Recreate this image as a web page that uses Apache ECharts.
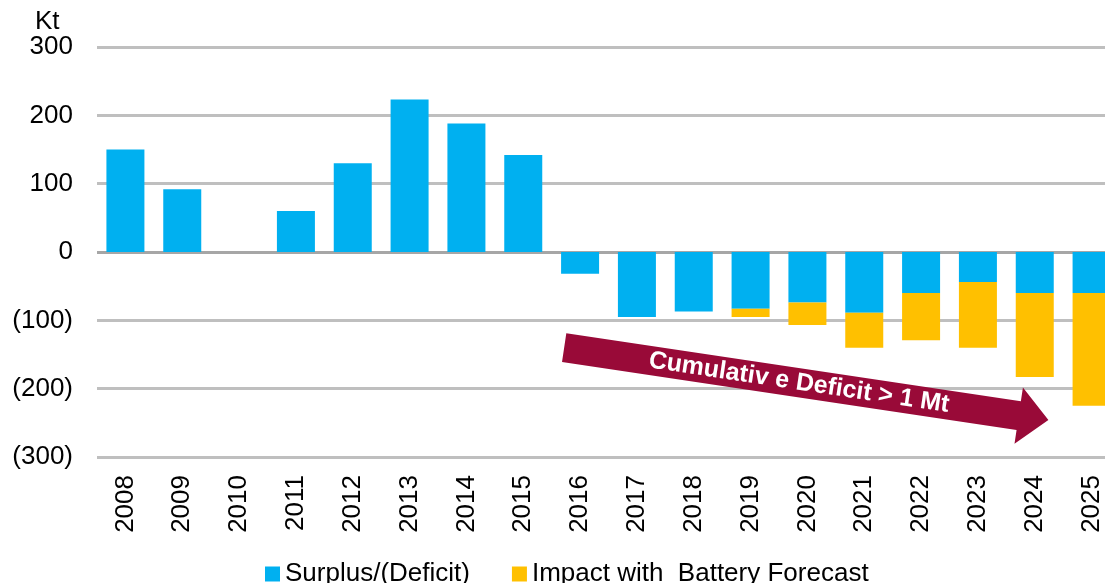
<!DOCTYPE html>
<html>
<head>
<meta charset="utf-8">
<script src="https://cdn.jsdelivr.net/npm/echarts@6/dist/echarts.min.js"></script>
<style>
  html, body { margin: 0; padding: 0; background: #fff; }
  #main { width: 1105px; height: 583px; }
</style>
</head>
<body>
<div id="main"></div>
<script>
// data (Kt)
var years = ['2008', '2009', '2010', '2011', '2012', '2013', '2014', '2015', '2016',
             '2017', '2018', '2019', '2020', '2021', '2022', '2023', '2024', '2025'];
var surplus = [150, 92, 0, 60, 130, 223, 188, 142, -32, -95, -87, -83, -74, -89, -60, -44, -60, -60];
var batteryImpact = [0, 0, 0, 0, 0, 0, 0, 0, 0, 0, 0, -12, -33, -51, -69, -96, -123, -165];
var seriesNames = ['Surplus/(Deficit)', 'Impact with  Battery Forecast'];

// arrow annotation, in [category index, value]
var arrowFrom = [7.72, -140];
var arrowTo = [16.24, -246];
var arrowText = 'Cumulativ e Deficit > 1 Mt';

var font = '"Liberation Sans", Arial, sans-serif';
var chart = echarts.init(document.getElementById('main'));

function fmt(v) {
  return v < 0 ? '(' + (-v) + ')' : String(v);
}

chart.setOption({
  animation: false,
  title: {
    text: 'Kt', left: 30, top: 4,
    textStyle: { fontSize: 26, fontWeight: 'normal', color: '#000', fontFamily: font }
  },
  legend: {
    left: 260, top: 556,
    icon: 'rect', itemWidth: 15, itemHeight: 15, itemGap: 42,
    textStyle: { fontSize: 26, color: '#000', fontFamily: font },
    data: seriesNames
  },
  // the plot runs past the right edge of the picture
  grid: { left: 97, width: 1023, top: 47, bottom: 126, outerBoundsMode: 'none' },
  xAxis: {
    type: 'category',
    data: years,
    axisLine: { show: false },
    axisTick: { show: false },
    axisLabel: { rotate: 90, fontSize: 26, color: '#000', fontFamily: font, margin: 18 }
  },
  yAxis: {
    type: 'value',
    min: -300, max: 300, interval: 100,
    axisLine: { show: false },
    axisTick: { show: false },
    axisLabel: { fontSize: 26, color: '#000', fontFamily: font, margin: 24, formatter: fmt },
    splitLine: {
      lineStyle: {
        width: 3,
        color: ['#BFBFBF', '#BFBFBF', '#BFBFBF', '#A6A6A6', '#BFBFBF', '#BFBFBF', '#BFBFBF']
      }
    }
  },
  series: [
    {
      name: seriesNames[0], type: 'bar', stack: 'total', barWidth: 38,
      itemStyle: { color: '#00B0F0' },
      data: surplus
    },
    {
      name: seriesNames[1], type: 'bar', stack: 'total', barWidth: 38,
      itemStyle: { color: '#FFC000' },
      data: batteryImpact
    }
  ]
});

// place the arrow through the axes
function toPx(p) {
  var a = chart.convertToPixel({ gridIndex: 0 }, [0, p[1]]);
  var b = chart.convertToPixel({ gridIndex: 0 }, [1, p[1]]);
  return [a[0] + (b[0] - a[0]) * p[0], a[1]];
}
var S = toPx(arrowFrom), T = toPx(arrowTo);
var dx = T[0] - S[0], dy = T[1] - S[1];
var len = Math.sqrt(dx * dx + dy * dy);
var d = [dx / len, dy / len], n = [-d[1], d[0]];
var h = 14.5, H = 28.5, L = 30;
var base = [T[0] - d[0] * L, T[1] - d[1] * L];
function off(p, k) { return [p[0] + n[0] * k, p[1] + n[1] * k]; }
var pts = [off(S, h), off(base, h), off(base, H), T, off(base, -H), off(base, -h), off(S, -h)];
var t = 0.485;
var mid = [S[0] + dx * t, S[1] + dy * t];

chart.setOption({
  graphic: [
    {
      type: 'polygon', silent: true,
      shape: { points: pts },
      style: { fill: '#990A38' }
    },
    {
      type: 'text', silent: true,
      x: mid[0], y: mid[1], rotation: -Math.atan2(dy, dx),
      style: {
        text: arrowText, fill: '#fff', fontSize: 25, fontWeight: 'bold',
        fontFamily: font, align: 'center', verticalAlign: 'middle'
      }
    }
  ]
});
</script>
</body>
</html>
